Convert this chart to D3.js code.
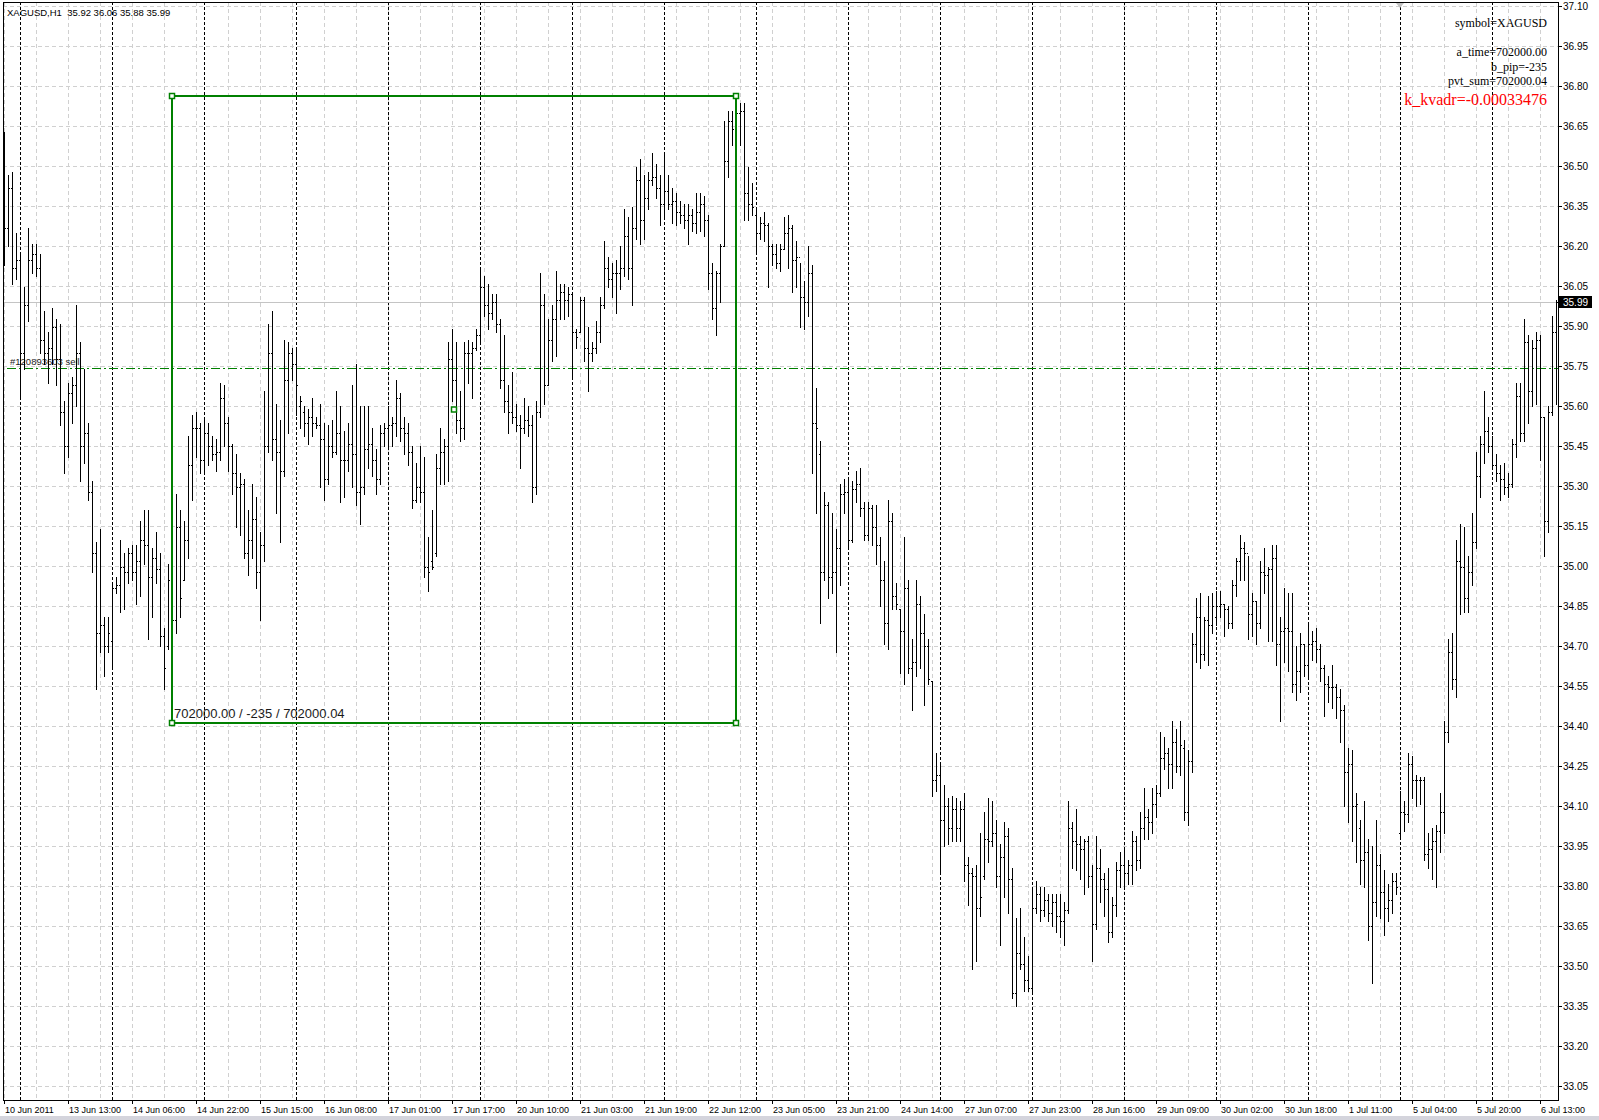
<!DOCTYPE html>
<html>
<head>
<meta charset="utf-8">
<script src="https://cdn.jsdelivr.net/npm/d3@7"></script>
<style>
  body { margin: 0; background: #fff; }
  svg { display: block; }
</style>
</head>
<body>
<div id="chart"></div>
<script>
// hourly XAGUSD bars (open / high / low / close)
const barOpen = [
  36.50, 36.27, 36.42, 36.12, 36.15, 35.80, 35.98, 36.15, 36.17, 36.12,
  35.85, 35.80, 35.82, 35.90, 35.78, 35.58, 35.45, 35.65, 35.68, 35.80,
  35.45, 35.50, 35.28, 35.05, 34.75, 34.78, 34.70, 34.72, 34.92, 34.93,
  35.00, 34.98, 35.05, 34.98, 35.02, 35.10, 35.08, 34.96, 35.03, 34.99,
  34.74, 34.70, 34.95, 34.80, 35.15, 34.95, 35.10, 35.38, 35.52, 35.52,
  35.40, 35.50, 35.45, 35.42, 35.43, 35.63, 35.54, 35.45, 35.35, 35.30,
  35.31, 35.05, 35.10, 35.18, 34.98, 35.08, 35.45, 35.80, 35.48, 35.43,
  35.36, 35.70, 35.80, 35.76, 35.60, 35.58, 35.54, 35.56, 35.54, 35.53,
  35.48, 35.33, 35.45, 35.43, 35.50, 35.40, 35.40, 35.46, 35.42, 35.28,
  35.30, 35.44, 35.46, 35.40, 35.33, 35.50, 35.52, 35.53, 35.54, 35.63,
  35.52, 35.50, 35.43, 35.25, 35.30, 35.28, 35.00, 35.02, 35.05, 35.37,
  35.43, 35.45, 35.78, 35.70, 35.55, 35.52, 35.80, 35.80, 35.82, 35.87,
  36.05, 35.98, 35.95, 35.99, 35.91, 35.70, 35.62, 35.58, 35.56, 35.53,
  35.52, 35.55, 35.53, 35.30, 35.58, 35.98, 35.68, 35.85, 35.93, 36.00,
  36.03, 36.00, 36.02, 35.88, 35.88, 36.00, 35.82, 35.80, 35.82, 35.88,
  35.98, 36.12, 36.08, 36.10, 36.10, 36.12, 36.24, 36.12, 36.27, 36.45,
  36.30, 36.38, 36.45, 36.46, 36.42, 36.36, 36.41, 36.36, 36.37, 36.33,
  36.32, 36.30, 36.32, 36.29, 36.33, 36.36, 36.30, 36.10, 35.97, 36.10,
  36.20, 36.52, 36.67, 36.64, 36.70, 36.71, 36.40, 36.36, 36.32, 36.25,
  36.29, 36.28, 36.20, 36.17, 36.14, 36.19, 36.25, 36.27, 36.15, 36.16,
  36.01, 35.99, 36.10, 35.54, 35.42, 34.98, 35.23, 34.96, 34.98, 35.07,
  35.27, 35.28, 35.10, 35.29, 35.31, 35.22, 35.12, 35.22, 35.15, 35.08,
  34.95, 34.79, 35.17, 34.89, 34.84, 34.76, 34.92, 34.62, 34.64, 34.86,
  34.75, 34.70, 34.57, 34.20, 34.22, 34.05, 34.10, 34.02, 34.09, 34.02,
  34.09, 33.88, 33.85, 33.84, 33.72, 33.84, 33.98, 33.97, 34.00, 33.84,
  33.91, 33.99, 33.83, 33.40, 33.55, 33.51, 33.45, 33.42, 33.72, 33.77,
  33.71, 33.75, 33.70, 33.74, 33.69, 33.67, 33.71, 34.02, 33.97, 33.96,
  33.94, 33.97, 33.84, 33.66, 33.87, 33.83, 33.79, 33.63, 33.73, 33.86,
  33.88, 33.85, 33.88, 33.97, 33.90, 34.02, 34.06, 34.04, 34.11, 34.15,
  34.28, 34.30, 34.26, 34.34, 34.25, 34.32, 34.08, 34.27, 34.71, 34.81,
  34.67, 34.80, 34.78, 34.81, 34.85, 34.86, 34.84, 34.79, 34.93, 35.02,
  35.07, 35.05, 34.82, 34.87, 34.79, 34.98, 34.97, 34.99, 35.03, 34.71,
  34.76, 34.77, 34.76, 34.56, 34.61, 34.71, 34.63, 34.71, 34.72, 34.69,
  34.62, 34.56, 34.55, 34.55, 34.51, 34.46, 34.23, 34.26, 34.10, 34.02,
  33.90, 33.93, 33.65, 33.74, 33.88, 33.78, 33.72, 33.75, 33.82, 34.00,
  34.08, 34.07, 34.26, 34.20, 34.20, 34.20, 33.92, 33.94, 33.97, 34.01,
  34.08, 34.38, 34.68, 34.58, 35.02, 35.00, 34.88, 34.98, 35.09, 35.34,
  35.46, 35.51, 35.45, 35.38, 35.35, 35.33, 35.30, 35.31, 35.46, 35.64,
  35.50, 35.84, 35.66, 35.82, 35.85, 35.56, 35.17, 35.58, 35.88
];
const barHigh = [
  36.63, 36.47, 36.48, 36.25, 36.17, 36.05, 36.27, 36.21, 36.21, 36.17,
  35.96, 35.88, 35.97, 35.93, 35.91, 35.62, 35.69, 35.71, 35.98, 35.84,
  35.74, 35.54, 35.32, 35.09, 35.14, 34.81, 34.81, 34.93, 34.96, 35.10,
  35.05, 35.07, 35.08, 35.08, 35.17, 35.21, 35.21, 35.07, 35.13, 35.05,
  34.77, 35.01, 35.05, 35.27, 35.21, 35.17, 35.49, 35.57, 35.58, 35.54,
  35.56, 35.54, 35.49, 35.48, 35.69, 35.68, 35.56, 35.46, 35.42, 35.35,
  35.33, 35.21, 35.31, 35.26, 35.13, 35.66, 35.91, 35.96, 35.61, 35.55,
  35.85, 35.84, 35.82, 35.81, 35.64, 35.60, 35.59, 35.63, 35.56, 35.61,
  35.54, 35.53, 35.55, 35.66, 35.60, 35.51, 35.54, 35.68, 35.76, 35.60,
  35.60, 35.60, 35.52, 35.44, 35.53, 35.54, 35.60, 35.56, 35.70, 35.65,
  35.56, 35.54, 35.45, 35.39, 35.45, 35.41, 35.11, 35.21, 35.42, 35.52,
  35.48, 35.84, 35.89, 35.84, 35.66, 35.84, 35.85, 35.84, 35.89, 36.12,
  36.09, 36.06, 36.02, 36.02, 35.93, 35.87, 35.68, 35.73, 35.61, 35.57,
  35.63, 35.60, 35.57, 35.62, 36.10, 36.02, 35.93, 35.98, 36.11, 36.06,
  36.06, 36.05, 36.03, 35.89, 36.01, 36.01, 35.90, 35.84, 35.92, 36.01,
  36.22, 36.16, 36.14, 36.15, 36.20, 36.34, 36.31, 36.35, 36.50, 36.53,
  36.47, 36.48, 36.55, 36.51, 36.47, 36.55, 36.47, 36.42, 36.40, 36.37,
  36.36, 36.36, 36.34, 36.40, 36.40, 36.39, 36.32, 36.14, 36.11, 36.21,
  36.67, 36.71, 36.71, 36.74, 36.74, 36.74, 36.50, 36.44, 36.34, 36.31,
  36.33, 36.29, 36.21, 36.21, 36.21, 36.31, 36.32, 36.28, 36.22, 36.14,
  36.07, 36.20, 36.13, 35.67, 35.47, 35.28, 35.24, 35.20, 35.14, 35.31,
  35.33, 35.33, 35.32, 35.36, 35.37, 35.24, 35.24, 35.23, 35.23, 35.11,
  35.02, 35.25, 35.20, 34.94, 34.84, 35.11, 34.95, 34.73, 34.95, 34.89,
  34.82, 34.73, 34.57, 34.30, 34.26, 34.18, 34.13, 34.14, 34.13, 34.12,
  34.15, 33.91, 33.87, 33.88, 34.00, 34.08, 34.13, 34.12, 34.05, 33.96,
  34.04, 34.02, 33.87, 33.68, 33.72, 33.61, 33.54, 33.80, 33.82, 33.80,
  33.80, 33.77, 33.77, 33.77, 33.77, 33.74, 34.12, 34.04, 34.09, 33.99,
  33.98, 33.99, 33.88, 33.99, 33.94, 33.85, 33.87, 33.76, 33.89, 33.93,
  33.94, 33.90, 34.01, 33.99, 34.08, 34.17, 34.09, 34.17, 34.18, 34.38,
  34.36, 34.32, 34.42, 34.39, 34.42, 34.35, 34.31, 34.75, 34.88, 34.90,
  34.81, 34.89, 34.90, 34.91, 34.91, 34.86, 34.85, 34.95, 35.03, 35.12,
  35.09, 35.04, 34.90, 34.87, 35.02, 35.07, 35.00, 35.08, 35.08, 34.81,
  34.92, 34.90, 34.90, 34.70, 34.75, 34.71, 34.79, 34.76, 34.77, 34.71,
  34.63, 34.59, 34.63, 34.56, 34.54, 34.48, 34.32, 34.31, 34.15, 34.05,
  34.12, 33.98, 33.95, 34.05, 33.92, 33.86, 33.81, 33.85, 33.85, 34.16,
  34.12, 34.30, 34.29, 34.22, 34.21, 34.21, 34.00, 34.02, 34.03, 34.15,
  34.42, 34.73, 34.75, 35.10, 35.16, 35.15, 35.04, 35.20, 35.43, 35.49,
  35.66, 35.56, 35.49, 35.42, 35.38, 35.39, 35.35, 35.48, 35.69, 35.69,
  35.93, 35.87, 35.85, 35.88, 35.87, 35.56, 35.60, 35.94, 36.00
];
const barLow = [
  36.13, 36.20, 36.06, 36.08, 35.64, 35.74, 35.92, 36.10, 36.09, 35.80,
  35.76, 35.69, 35.76, 35.68, 35.53, 35.35, 35.41, 35.54, 35.60, 35.32,
  35.39, 35.25, 34.98, 34.54, 34.68, 34.59, 34.68, 34.62, 34.90, 34.83,
  34.84, 34.94, 34.95, 34.86, 34.89, 35.01, 34.73, 34.81, 34.94, 34.70,
  34.54, 34.69, 34.70, 34.75, 34.81, 34.95, 35.03, 35.25, 35.41, 35.35,
  35.36, 35.38, 35.40, 35.36, 35.40, 35.45, 35.36, 35.27, 35.15, 35.12,
  35.03, 34.97, 35.03, 34.92, 34.80, 35.02, 35.43, 35.40, 35.20, 35.09,
  35.34, 35.50, 35.70, 35.57, 35.52, 35.49, 35.46, 35.49, 35.52, 35.30,
  35.25, 35.31, 35.41, 35.42, 35.24, 35.26, 35.36, 35.30, 35.23, 35.16,
  35.27, 35.37, 35.34, 35.27, 35.31, 35.45, 35.45, 35.45, 35.49, 35.47,
  35.42, 35.38, 35.22, 35.24, 35.24, 34.96, 34.91, 34.99, 35.04, 35.31,
  35.31, 35.32, 35.62, 35.50, 35.47, 35.48, 35.69, 35.63, 35.81, 35.84,
  35.94, 35.89, 35.93, 35.88, 35.67, 35.58, 35.50, 35.54, 35.51, 35.37,
  35.50, 35.49, 35.24, 35.27, 35.56, 35.61, 35.68, 35.77, 35.79, 35.93,
  35.93, 35.94, 35.71, 35.82, 35.88, 35.77, 35.66, 35.77, 35.80, 35.84,
  35.97, 36.05, 36.01, 35.95, 36.04, 36.09, 36.08, 35.98, 36.23, 36.21,
  36.23, 36.34, 36.43, 36.38, 36.28, 36.31, 36.34, 36.29, 36.28, 36.29,
  36.27, 36.21, 36.26, 36.25, 36.26, 36.24, 36.04, 35.93, 35.87, 35.99,
  36.20, 36.46, 36.58, 36.55, 36.58, 36.30, 36.30, 36.32, 36.17, 36.23,
  36.22, 36.05, 36.13, 36.12, 36.11, 36.19, 36.12, 36.03, 36.05, 35.90,
  35.89, 35.94, 35.35, 35.20, 34.79, 34.95, 34.88, 34.90, 34.68, 34.93,
  35.20, 35.07, 35.09, 35.24, 35.19, 35.10, 35.10, 35.08, 35.01, 34.85,
  34.71, 34.69, 34.84, 34.84, 34.60, 34.56, 34.60, 34.46, 34.59, 34.62,
  34.48, 34.56, 34.14, 34.16, 33.85, 33.95, 33.96, 33.97, 33.97, 33.97,
  33.82, 33.73, 33.49, 33.52, 33.69, 33.83, 33.89, 33.95, 33.80, 33.58,
  33.76, 33.70, 33.38, 33.35, 33.49, 33.41, 33.41, 33.41, 33.70, 33.67,
  33.69, 33.67, 33.65, 33.63, 33.61, 33.58, 33.70, 33.87, 33.86, 33.83,
  33.77, 33.80, 33.52, 33.64, 33.74, 33.69, 33.59, 33.61, 33.69, 33.80,
  33.79, 33.81, 33.81, 33.86, 33.87, 33.98, 33.98, 34.00, 34.06, 34.14,
  34.24, 34.17, 34.17, 34.23, 34.22, 34.05, 34.03, 34.23, 34.64, 34.62,
  34.65, 34.63, 34.75, 34.78, 34.81, 34.74, 34.77, 34.77, 34.89, 34.95,
  34.95, 34.73, 34.74, 34.71, 34.77, 34.90, 34.72, 34.72, 34.63, 34.42,
  34.64, 34.61, 34.53, 34.50, 34.53, 34.59, 34.58, 34.65, 34.64, 34.57,
  34.44, 34.49, 34.47, 34.43, 34.34, 34.10, 34.04, 33.97, 33.89, 33.81,
  33.80, 33.60, 33.44, 33.69, 33.68, 33.62, 33.67, 33.70, 33.77, 33.99,
  34.01, 34.04, 34.13, 34.10, 34.11, 33.90, 33.87, 33.83, 33.80, 33.93,
  34.00, 34.34, 34.54, 34.51, 34.82, 34.83, 34.83, 34.93, 35.07, 35.26,
  35.39, 35.43, 35.37, 35.32, 35.25, 35.27, 35.26, 35.30, 35.41, 35.47,
  35.47, 35.54, 35.60, 35.61, 35.40, 35.04, 35.13, 35.57, 35.61
];
const barClose = [
  36.27, 36.42, 36.12, 36.15, 35.80, 35.98, 36.15, 36.17, 36.12, 35.85,
  35.80, 35.82, 35.90, 35.78, 35.58, 35.45, 35.65, 35.68, 35.80, 35.45,
  35.50, 35.28, 35.05, 34.75, 34.78, 34.70, 34.75, 34.92, 34.93, 35.00,
  34.98, 35.05, 34.98, 35.02, 35.10, 35.08, 34.96, 35.03, 34.99, 34.74,
  34.62, 34.95, 34.80, 35.15, 34.88, 35.10, 35.38, 35.52, 35.52, 35.40,
  35.50, 35.45, 35.42, 35.43, 35.63, 35.54, 35.45, 35.35, 35.30, 35.31,
  35.05, 35.10, 35.18, 34.98, 35.08, 35.45, 35.80, 35.48, 35.43, 35.36,
  35.70, 35.80, 35.76, 35.68, 35.62, 35.54, 35.56, 35.54, 35.53, 35.48,
  35.33, 35.45, 35.43, 35.50, 35.40, 35.40, 35.46, 35.42, 35.28, 35.30,
  35.44, 35.46, 35.40, 35.33, 35.50, 35.52, 35.53, 35.54, 35.63, 35.52,
  35.50, 35.43, 35.25, 35.30, 35.28, 35.00, 34.98, 35.00, 35.37, 35.43,
  35.45, 35.78, 35.70, 35.55, 35.52, 35.80, 35.80, 35.82, 35.87, 36.05,
  35.98, 35.95, 35.99, 35.91, 35.70, 35.62, 35.58, 35.56, 35.53, 35.52,
  35.55, 35.53, 35.30, 35.58, 35.98, 35.68, 35.85, 35.93, 36.00, 36.03,
  36.00, 36.02, 35.88, 35.86, 36.00, 35.82, 35.80, 35.82, 35.88, 35.98,
  36.12, 36.08, 36.10, 36.10, 36.12, 36.24, 36.12, 36.27, 36.45, 36.30,
  36.38, 36.45, 36.46, 36.42, 36.36, 36.41, 36.36, 36.37, 36.33, 36.32,
  36.30, 36.32, 36.29, 36.33, 36.36, 36.30, 36.10, 35.97, 36.10, 36.20,
  36.52, 36.67, 36.64, 36.70, 36.71, 36.40, 36.36, 36.35, 36.25, 36.29,
  36.28, 36.20, 36.17, 36.14, 36.19, 36.25, 36.27, 36.15, 36.16, 36.01,
  35.99, 36.10, 35.54, 35.52, 34.98, 35.23, 34.96, 34.98, 35.07, 35.27,
  35.28, 35.10, 35.29, 35.31, 35.22, 35.12, 35.22, 35.15, 35.08, 34.95,
  34.79, 35.17, 34.89, 34.86, 34.76, 34.92, 34.62, 34.64, 34.86, 34.75,
  34.70, 34.58, 34.20, 34.22, 34.05, 34.10, 34.02, 34.09, 34.02, 34.09,
  33.88, 33.85, 33.84, 33.72, 33.76, 33.98, 33.97, 34.00, 33.84, 33.91,
  33.99, 33.83, 33.40, 33.55, 33.51, 33.45, 33.42, 33.72, 33.77, 33.71,
  33.75, 33.70, 33.74, 33.69, 33.67, 33.71, 34.02, 33.97, 33.96, 33.94,
  33.97, 33.84, 33.66, 33.87, 33.83, 33.79, 33.63, 33.73, 33.86, 33.88,
  33.85, 33.88, 33.97, 33.90, 34.02, 34.06, 34.04, 34.11, 34.15, 34.28,
  34.30, 34.26, 34.34, 34.25, 34.33, 34.08, 34.27, 34.71, 34.81, 34.67,
  34.80, 34.78, 34.85, 34.85, 34.86, 34.84, 34.79, 34.93, 35.02, 35.07,
  35.05, 34.82, 34.87, 34.79, 34.98, 34.97, 34.99, 35.03, 34.71, 34.76,
  34.77, 34.76, 34.56, 34.61, 34.71, 34.63, 34.71, 34.72, 34.69, 34.62,
  34.56, 34.55, 34.55, 34.51, 34.46, 34.23, 34.26, 34.10, 34.11, 33.90,
  33.93, 33.65, 33.74, 33.88, 33.78, 33.72, 33.75, 33.82, 33.80, 34.08,
  34.07, 34.26, 34.20, 34.20, 34.20, 33.92, 33.94, 33.97, 34.01, 34.08,
  34.38, 34.68, 34.58, 35.02, 35.00, 34.88, 34.98, 35.09, 35.34, 35.46,
  35.51, 35.45, 35.38, 35.35, 35.33, 35.30, 35.31, 35.46, 35.64, 35.50,
  35.84, 35.66, 35.82, 35.85, 35.56, 35.17, 35.58, 35.88, 35.99
];

// time axis: label text and the bar it sits on
const timeLabels = [
  '10 Jun 2011', '13 Jun 13:00', '14 Jun 06:00', '14 Jun 22:00', '15 Jun 15:00',
  '16 Jun 08:00', '17 Jun 01:00', '17 Jun 17:00', '20 Jun 10:00', '21 Jun 03:00',
  '21 Jun 19:00', '22 Jun 12:00', '23 Jun 05:00', '23 Jun 21:00', '24 Jun 14:00',
  '27 Jun 07:00', '27 Jun 23:00', '28 Jun 16:00', '29 Jun 09:00', '30 Jun 02:00',
  '30 Jun 18:00', '1 Jul 11:00', '5 Jul 04:00', '5 Jul 20:00', '6 Jul 13:00'
];
const timeLabelBars = [
  0, 16, 32, 48, 64, 80, 96, 112, 128, 144, 160, 176, 192,
  208, 224, 240, 256, 272, 288, 304, 320, 336, 352, 368, 384
];
// first bar of each trading day (period separators)
const daySeparatorBars = [4, 27, 50, 73, 96, 119, 142, 165, 188, 211, 234, 257, 280, 303, 326, 349, 372];

const priceTicks = [
  37.10, 36.95, 36.80, 36.65, 36.50, 36.35, 36.20, 36.05, 35.90, 35.75,
  35.60, 35.45, 35.30, 35.15, 35.00, 34.85, 34.70, 34.55, 34.40, 34.25,
  34.10, 33.95, 33.80, 33.65, 33.50, 33.35, 33.20, 33.05
];

const bidPrice = 35.99;
const orderPrice = 35.742;
const orderLabel = '#120893603 sell';
const boxBars = [42, 183];
const boxPrices = [36.765, 34.415];
const boxLabel = '702000.00 / -235 / 702000.04';
const headerText = 'XAGUSD,H1  35.92 36.06 35.88 35.99';
const infoLines = ['symbol=XAGUSD', 'a_time=702000.00', 'b_pip=-235', 'pvt_sum=702000.04'];
const kvadrText = 'k_kvadr=-0.00033476';

const width = 1599;
const height = 1120;
const plotLeft = 3;
const plotTop = 2;
const plotRight = 1558;
const plotBottom = 1100;
const sansFont = "'Liberation Sans', Arial, sans-serif";
const serifFont = "'Liberation Serif', 'Times New Roman', serif";
const boxGreen = '#008000';
const gridColor = '#d0d0d0';

const x = d3.scaleLinear().domain([0, 388]).range([4, 1556]);
const y = d3.scaleLinear().domain([33.05, 36.95]).range([1086.5, 46.5]);

const svg = d3.select('#chart').append('svg')
  .attr('width', width)
  .attr('height', height)
  .style('font-family', sansFont);

svg.append('rect')
  .attr('width', width)
  .attr('height', height)
  .attr('fill', '#fff');

// grid
const grid = svg.append('g').attr('shape-rendering', 'crispEdges');
grid.selectAll('line.vgrid')
  .data(d3.range(0, barHigh.length, 8))
  .enter()
  .append('line')
  .attr('class', 'vgrid')
  .attr('x1', d => x(d) + 0.5)
  .attr('x2', d => x(d) + 0.5)
  .attr('y1', plotTop)
  .attr('y2', plotBottom)
  .attr('stroke', gridColor)
  .attr('stroke-dasharray', '4,3');
grid.selectAll('line.hgrid')
  .data(priceTicks)
  .enter()
  .append('line')
  .attr('class', 'hgrid')
  .attr('x1', plotLeft)
  .attr('x2', plotRight)
  .attr('y1', d => y(d))
  .attr('y2', d => y(d))
  .attr('stroke', gridColor)
  .attr('stroke-dasharray', '4,3');

// day separators
grid.selectAll('line.sep')
  .data(daySeparatorBars)
  .enter()
  .append('line')
  .attr('class', 'sep')
  .attr('x1', d => x(d) + 0.5)
  .attr('x2', d => x(d) + 0.5)
  .attr('y1', plotTop)
  .attr('y2', plotBottom)
  .attr('stroke', '#000')
  .attr('stroke-dasharray', '3,2');

// bid line
grid.append('line')
  .attr('x1', plotLeft)
  .attr('x2', plotRight)
  .attr('y1', Math.floor(y(bidPrice)) + 0.5)
  .attr('y2', Math.floor(y(bidPrice)) + 0.5)
  .attr('stroke', '#c4c4c4');

// open order line
grid.append('line')
  .attr('x1', plotLeft + 4)
  .attr('x2', plotRight)
  .attr('y1', Math.floor(y(orderPrice)) + 0.5)
  .attr('y2', Math.floor(y(orderPrice)) + 0.5)
  .attr('stroke', boxGreen)
  .attr('stroke-dasharray', '9,3,2,3');

svg.append('text')
  .attr('x', 10)
  .attr('y', Math.floor(y(orderPrice)) - 3)
  .style('font-size', '9.5px')
  .attr('fill', '#222')
  .text(orderLabel);

// OHLC bars
const barPath = i => {
  const bx = x(i);
  const yh = Math.round(y(barHigh[i]));
  const yl = Math.round(y(barLow[i]));
  const yo = Math.round(y(barOpen[i]));
  const yc = Math.round(y(barClose[i]));
  return `M${bx + 0.5},${yh}V${Math.max(yl, yh + 1) + 1}` +
    `M${bx - 1},${yo + 0.5}h1` +
    `M${bx + 1},${yc + 0.5}h1`;
};
svg.append('g')
  .attr('shape-rendering', 'crispEdges')
  .selectAll('path')
  .data(d3.range(barHigh.length))
  .enter()
  .append('path')
  .attr('d', barPath)
  .attr('stroke', '#000')
  .attr('stroke-width', 1)
  .attr('fill', 'none');

// green box
const bx0 = x(boxBars[0]);
const bx1 = x(boxBars[1]);
const by0 = Math.round(y(boxPrices[0]));
const by1 = Math.round(y(boxPrices[1]));
const box = svg.append('g');
box.append('rect')
  .attr('x', bx0)
  .attr('y', by0)
  .attr('width', bx1 - bx0)
  .attr('height', by1 - by0)
  .attr('fill', 'none')
  .attr('stroke', boxGreen)
  .attr('stroke-width', 2);
const handles = [[bx0, by0], [bx1, by0], [bx0, by1], [bx1, by1], [(bx0 + bx1) / 2, (by0 + by1) / 2]];
box.selectAll('rect.handle')
  .data(handles)
  .enter()
  .append('rect')
  .attr('class', 'handle')
  .attr('x', d => d[0] - 2.5)
  .attr('y', d => d[1] - 2.5)
  .attr('width', 5)
  .attr('height', 5)
  .attr('fill', '#fff')
  .attr('stroke', boxGreen)
  .attr('stroke-width', 1.5);
box.append('text')
  .attr('x', bx0 + 2)
  .attr('y', by1 - 5)
  .style('font-size', '13px')
  .attr('fill', '#1a1a1a')
  .text(boxLabel);

// frame
const frame = svg.append('g')
  .attr('shape-rendering', 'crispEdges')
  .attr('stroke', '#000');
frame.append('line').attr('x1', plotLeft + 0.5).attr('x2', plotLeft + 0.5).attr('y1', plotTop).attr('y2', plotBottom);
frame.append('line').attr('x1', plotLeft).attr('x2', plotRight).attr('y1', plotTop + 0.5).attr('y2', plotTop + 0.5);
frame.append('line').attr('x1', plotRight + 0.5).attr('x2', plotRight + 0.5).attr('y1', plotTop).attr('y2', plotBottom + 1);
frame.append('line').attr('x1', plotLeft).attr('x2', plotRight + 1).attr('y1', plotBottom + 0.5).attr('y2', plotBottom + 0.5);

// chart shift marker
svg.append('path')
  .attr('d', 'M1396,3L1404,3L1400,8Z')
  .attr('fill', '#c0c0c0');

// price axis
const priceAxis = svg.append('g');
priceAxis.selectAll('line')
  .data(priceTicks)
  .enter()
  .append('line')
  .attr('shape-rendering', 'crispEdges')
  .attr('x1', plotRight)
  .attr('x2', plotRight + 4)
  .attr('y1', d => y(d))
  .attr('y2', d => y(d))
  .attr('stroke', '#000');
priceAxis.selectAll('text')
  .data(priceTicks)
  .enter()
  .append('text')
  .attr('x', plotRight + 5)
  .attr('y', d => y(d) + 3.5)
  .style('font-size', '10px')
  .attr('fill', '#000')
  .text(d => d.toFixed(2));

// bid price tag
priceAxis.append('rect')
  .attr('x', plotRight + 1)
  .attr('y', Math.floor(y(bidPrice)) - 6)
  .attr('width', 33)
  .attr('height', 12)
  .attr('fill', '#000');
priceAxis.append('text')
  .attr('x', plotRight + 5)
  .attr('y', Math.floor(y(bidPrice)) + 4)
  .style('font-size', '10px')
  .attr('fill', '#fff')
  .text(bidPrice.toFixed(2));

// time axis
const timeAxis = svg.append('g');
timeAxis.selectAll('line')
  .data(timeLabelBars)
  .enter()
  .append('line')
  .attr('shape-rendering', 'crispEdges')
  .attr('x1', d => x(d) + 0.5)
  .attr('x2', d => x(d) + 0.5)
  .attr('y1', plotBottom)
  .attr('y2', plotBottom + 4)
  .attr('stroke', '#000');
timeAxis.selectAll('text')
  .data(timeLabelBars)
  .enter()
  .append('text')
  .attr('x', d => x(d) + 1)
  .attr('y', plotBottom + 13)
  .style('font-size', '9px')
  .attr('fill', '#000')
  .text((d, i) => timeLabels[i]);

svg.append('rect')
  .attr('x', 0)
  .attr('y', 1116)
  .attr('width', width)
  .attr('height', 4)
  .attr('fill', '#d4d4dc');

// header
svg.append('text')
  .attr('x', 7)
  .attr('y', 16)
  .style('font-size', '9.5px')
  .style('white-space', 'pre')
  .attr('fill', '#000')
  .text(headerText);

// indicator comments, top right
const infoBaselines = [27, 56, 70.5, 85];
svg.append('g')
  .selectAll('text')
  .data(infoLines)
  .enter()
  .append('text')
  .attr('x', 1547)
  .attr('y', (d, i) => infoBaselines[i])
  .attr('text-anchor', 'end')
  .style('font-family', serifFont)
  .style('font-size', '12px')
  .attr('fill', '#000')
  .text(d => d);
svg.append('text')
  .attr('x', 1547)
  .attr('y', 105)
  .attr('text-anchor', 'end')
  .style('font-family', serifFont)
  .style('font-size', '16px')
  .attr('fill', '#ff0000')
  .text(kvadrText);
</script>
</body>
</html>
